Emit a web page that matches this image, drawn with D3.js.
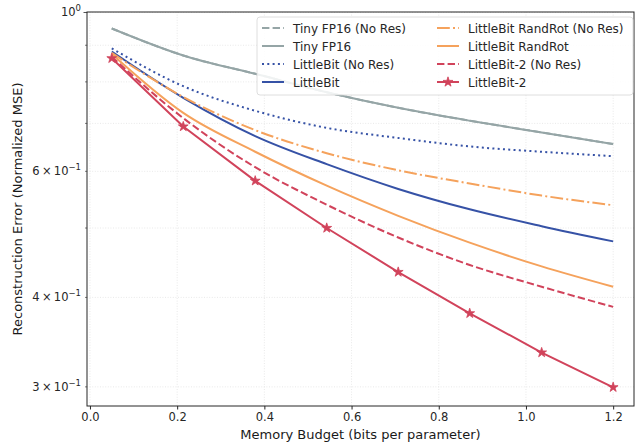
<!DOCTYPE html>
<html>
<head>
<meta charset="utf-8">
<script src="https://cdn.jsdelivr.net/npm/d3@7"></script>
<style>
  html, body { margin: 0; padding: 0; background: #fff; }
  svg { display: block; font-family: "DejaVu Sans", sans-serif; }
</style>
</head>
<body>
<svg id="chart" width="638" height="444"></svg>
<script>
// memory budget (bits per parameter)
const budgets = [0.05, 0.214, 0.379, 0.543, 0.707, 0.871, 1.036, 1.2];

// normalized MSE per method
const tinyFp16NoRes = [0.950, 0.871, 0.821, 0.774, 0.736, 0.706, 0.680, 0.655];
const tinyFp16 = [0.950, 0.871, 0.821, 0.774, 0.736, 0.706, 0.680, 0.655];
const littleBitNoRes = [0.891, 0.789, 0.729, 0.690, 0.668, 0.650, 0.639, 0.630];
const littleBit = [0.882, 0.760, 0.672, 0.614, 0.567, 0.531, 0.503, 0.479];
const randRotNoRes = [0.878, 0.762, 0.685, 0.636, 0.602, 0.577, 0.555, 0.538];
const randRot = [0.875, 0.724, 0.639, 0.573, 0.520, 0.477, 0.442, 0.414];
const littleBit2NoRes = [0.867, 0.712, 0.608, 0.539, 0.485, 0.444, 0.414, 0.388];
const littleBit2 = [0.863, 0.693, 0.582, 0.500, 0.434, 0.380, 0.335, 0.2996];

const xTicks = [0.0, 0.2, 0.4, 0.6, 0.8, 1.0, 1.2];
const yGrid = [0.3, 0.4, 0.5, 0.6, 0.7, 0.8, 0.9, 1.0];
const yLabelled = [
  { v: 1.0, m: null, e: "0" },
  { v: 0.6, m: "6", e: "\u22121" },
  { v: 0.4, m: "4", e: "\u22121" },
  { v: 0.3, m: "3", e: "\u22121" }
];

const series = [
  { name: "Tiny FP16 (No Res)", values: tinyFp16NoRes, color: "#95a5a6", dash: "7.4,3.2" },
  { name: "Tiny FP16", values: tinyFp16, color: "#95a5a6", dash: null },
  { name: "LittleBit (No Res)", values: littleBitNoRes, color: "#3652a6", dash: "2,3.3" },
  { name: "LittleBit", values: littleBit, color: "#3652a6", dash: null },
  { name: "LittleBit RandRot (No Res)", values: randRotNoRes, color: "#f5a25c", dash: "12.8,3.2,2,3.2" },
  { name: "LittleBit RandRot", values: randRot, color: "#f5a25c", dash: null },
  { name: "LittleBit-2 (No Res)", values: littleBit2NoRes, color: "#d1435b", dash: "7.4,3.2" },
  { name: "LittleBit-2", values: littleBit2, color: "#d1435b", dash: null, marker: true }
];

const plotLeft = 87, plotRight = 634, plotTop = 12, plotBottom = 406;

const svg = d3.select("#chart");

const x = d3.scaleLinear().domain([-0.0068, 1.2478]).range([plotLeft, plotRight]);
const y = d3.scaleLog().domain([0.2821, 1.0016]).range([plotBottom, plotTop]);

// grid
const grid = svg.append("g")
  .attr("stroke", "#e3e3e3")
  .attr("stroke-width", 0.8)
  .attr("stroke-dasharray", "1,1.6");
grid.selectAll("line.v")
  .data(xTicks)
  .join("line")
  .attr("class", "v")
  .attr("x1", d => x(d)).attr("x2", d => x(d))
  .attr("y1", plotTop).attr("y2", plotBottom);
grid.selectAll("line.h")
  .data(yGrid)
  .join("line")
  .attr("class", "h")
  .attr("x1", plotLeft).attr("x2", plotRight)
  .attr("y1", d => y(d)).attr("y2", d => y(d));

// lines
const smooth = d3.line()
  .x((d, i) => x(budgets[i]))
  .y(d => y(d))
  .curve(d3.curveMonotoneX);
const straight = d3.line()
  .x((d, i) => x(budgets[i]))
  .y(d => y(d));

const plot = svg.append("g");
plot.selectAll("path")
  .data(series)
  .join("path")
  .attr("d", d => d.marker ? straight(d.values) : smooth(d.values))
  .attr("fill", "none")
  .attr("stroke", d => d.color)
  .attr("stroke-width", 2)
  .attr("stroke-dasharray", d => d.dash);

const star = d3.symbol().type(d3.symbolStar).size(30);
series.filter(s => s.marker).forEach(s => {
  plot.append("g").selectAll("path")
    .data(s.values)
    .join("path")
    .attr("d", star)
    .attr("transform", (d, i) => `translate(${x(budgets[i])},${y(d)})`)
    .attr("fill", s.color)
    .attr("stroke", s.color)
    .attr("stroke-width", 0.8);
});

// frame
svg.append("rect")
  .attr("x", plotLeft).attr("y", plotTop)
  .attr("width", plotRight - plotLeft).attr("height", plotBottom - plotTop)
  .attr("fill", "none")
  .attr("stroke", "#262626")
  .attr("stroke-width", 1);

// x axis
const xAxis = svg.append("g")
  .attr("transform", `translate(0,${plotBottom})`)
  .call(d3.axisBottom(x).tickValues(xTicks).tickFormat(d3.format(".1f")).tickSize(3.5).tickPadding(3));
xAxis.select(".domain").remove();
xAxis.selectAll("line").attr("stroke", "#262626");
xAxis.selectAll("text")
  .attr("font-size", 11.5)
  .attr("fill", "#262626")
  .attr("font-family", "DejaVu Sans, sans-serif");

// y ticks
const yt = svg.append("g");
yt.selectAll("line")
  .data(yGrid)
  .join("line")
  .attr("x1", d => d === 1.0 ? plotLeft - 3.5 : plotLeft - 2)
  .attr("x2", plotLeft)
  .attr("y1", d => y(d)).attr("y2", d => y(d))
  .attr("stroke", "#262626")
  .attr("stroke-width", d => d === 1.0 ? 0.8 : 0.6);

const labels = yt.selectAll("text")
  .data(yLabelled)
  .join("text")
  .attr("x", plotLeft - 6)
  .attr("y", d => y(d.v) + 4)
  .attr("text-anchor", "end")
  .attr("font-size", 11.5)
  .attr("fill", "#262626");
labels.each(function (d) {
  const t = d3.select(this);
  if (d.m) t.append("tspan").text(d.m + "\u2009\u00d7\u200910");
  else t.append("tspan").text("10");
  t.append("tspan")
    .attr("dy", -5)
    .attr("font-size", 8.5)
    .text(d.e);
});

// axis titles
svg.append("text")
  .attr("x", (plotLeft + plotRight) / 2)
  .attr("y", 439)
  .attr("text-anchor", "middle")
  .attr("font-size", 13)
  .attr("fill", "#1a1a1a")
  .text("Memory Budget (bits per parameter)");

svg.append("text")
  .attr("transform", `translate(22,${(plotTop + plotBottom) / 2}) rotate(-90)`)
  .attr("text-anchor", "middle")
  .attr("font-size", 13)
  .attr("fill", "#1a1a1a")
  .text("Reconstruction Error (Normalized MSE)");

// legend
const legend = svg.append("g");
legend.append("rect")
  .attr("x", 257).attr("y", 17)
  .attr("width", 376).attr("height", 78)
  .attr("rx", 3)
  .attr("fill", "#fff")
  .attr("fill-opacity", 0.85)
  .attr("stroke", "#d6d6d6")
  .attr("stroke-width", 0.8);

const cols = [262, 437];
const items = legend.selectAll("g.item")
  .data(series)
  .join("g")
  .attr("class", "item")
  .attr("transform", (d, i) => `translate(${cols[Math.floor(i / 4)]},${28 + (i % 4) * 18})`);
items.append("line")
  .attr("x1", 0).attr("x2", 22)
  .attr("stroke", d => d.color)
  .attr("stroke-width", 2)
  .attr("stroke-dasharray", d => d.dash);
items.filter(d => d.marker)
  .append("path")
  .attr("d", star)
  .attr("transform", "translate(11,0)")
  .attr("fill", d => d.color)
  .attr("stroke", d => d.color)
  .attr("stroke-width", 0.8);
items.append("text")
  .attr("x", 31)
  .attr("y", 4.5)
  .attr("font-size", 12)
  .attr("fill", "#262626")
  .text(d => d.name);
</script>
</body>
</html>
